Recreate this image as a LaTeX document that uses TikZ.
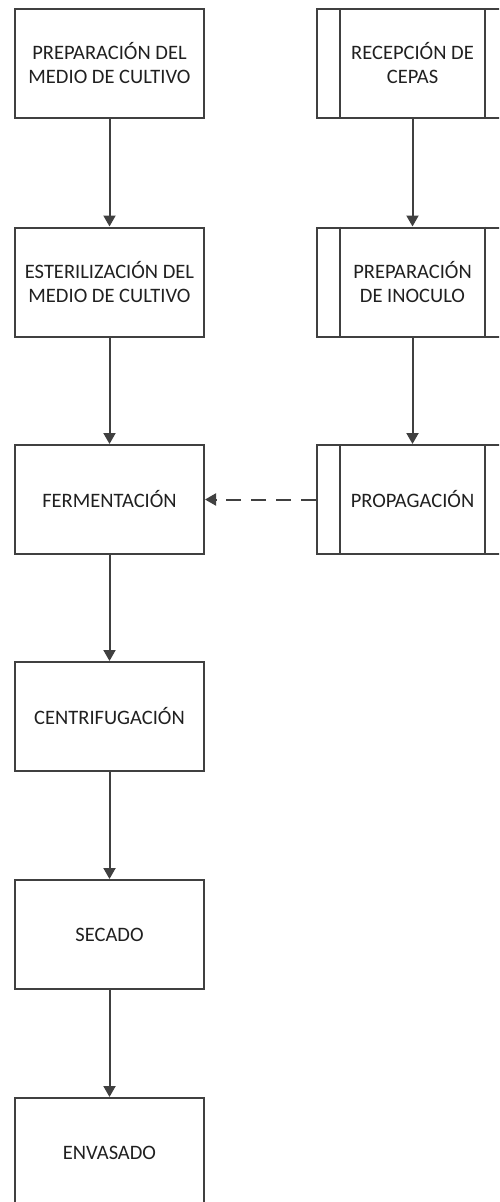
\documentclass[tikz,border=0pt]{standalone}
\usepackage{fontspec}
\setmainfont{Carlito}
\usetikzlibrary{arrows.meta}
\definecolor{ln}{HTML}{404040}
\definecolor{tx}{HTML}{202020}
\tikzset{
  box/.style={draw=ln, line width=2pt, minimum width=189pt, minimum height=109pt, inner sep=0pt,
    align=center, text=tx, font=\fontsize{20.5}{24}\selectfont},
  pbox/.style={box, minimum width=191pt,
    append after command={
      \pgfextra{\begin{pgfinterruptpath}
      \draw[ln, line width=2pt] ([xshift=24pt]\tikzlastnode.north west) -- ([xshift=24pt]\tikzlastnode.south west);
      \draw[ln, line width=2pt] ([xshift=-24pt]\tikzlastnode.north east) -- ([xshift=-24pt]\tikzlastnode.south east);
      \end{pgfinterruptpath}}}},
  flow/.style={draw=ln, line width=2pt, -{Triangle[width=12pt,length=11pt]}},
}
\begin{document}
\begin{tikzpicture}[x=1pt,y=-1pt]
\useasboundingbox (0,0) rectangle (499,1202);
\clip (0,0) rectangle (499,1202);
\node[box] (a) at (109.5,63.5) {PREPARACIÓN DEL\\MEDIO DE CULTIVO};
\node[box] (b) at (109.5,282) {ESTERILIZACIÓN DEL\\MEDIO DE CULTIVO};
\node[box] (c) at (109.5,499.5) {FERMENTACIÓN};
\node[box] (d) at (109.5,716.5) {CENTRIFUGACIÓN};
\node[box] (e) at (109.5,934.5) {SECADO};
\node[box] (f) at (109.5,1152.5) {ENVASADO};
\node[pbox] (r1) at (412.5,63.5) {RECEPCIÓN DE\\CEPAS};
\node[pbox] (r2) at (412.5,282) {PREPARACIÓN\\DE INOCULO};
\node[pbox] (r3) at (412.5,499.5) {PROPAGACIÓN};
\draw[flow] (a) -- (b);
\draw[flow] (b) -- (c);
\draw[flow] (c) -- (d);
\draw[flow] (d) -- (e);
\draw[flow] (e) -- (f);
\draw[flow] (r1) -- (r2);
\draw[flow] (r2) -- (r3);
\draw[flow, dash pattern=on 15pt off 10pt] (r3) -- (c);
\end{tikzpicture}
\end{document}
